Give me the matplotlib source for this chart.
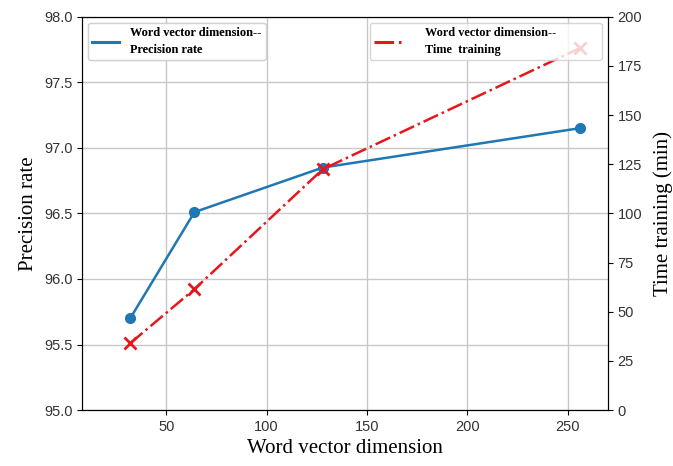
import matplotlib
matplotlib.use("Agg")
import matplotlib.pyplot as plt
from matplotlib.lines import Line2D

dims = [32, 64, 128, 256]
precision = [95.70, 96.51, 96.85, 97.15]
train_time = [34, 61.5, 122.5, 184]

serif = "Liberation Serif"
sans = "Liberation Sans"
blue = "#1f77b4"
red = "#e8161b"

fig = plt.figure(figsize=(6.73, 4.66), dpi=100)
ax = fig.add_axes([0.122, 0.120, 0.781, 0.844])
ax2 = ax.twinx()

ax.plot(dims, precision, color=blue, marker="o", markersize=7, linewidth=1.8)
ax2.plot(dims, train_time, color=red, marker="x", markersize=9,
         markeredgewidth=2, linestyle="-.", linewidth=1.8)

ax.set_xlim(8, 270)
ax.set_ylim(95.0, 98.0)
ax2.set_ylim(0, 200)
ax.set_xticks([50, 100, 150, 200, 250])
ax.set_yticks([95.0, 95.5, 96.0, 96.5, 97.0, 97.5, 98.0])
ax.set_yticklabels(["95.0", "95.5", "96.0", "96.5", "97.0", "97.5", "98.0"])
ax2.set_yticks([0, 25, 50, 75, 100, 125, 150, 175, 200])
ax.grid(True, color="#c8c8c8", linewidth=1.0)
ax.set_axisbelow(True)

for a in (ax, ax2):
    for lab in a.get_xticklabels() + a.get_yticklabels():
        lab.set_fontfamily(sans)
        lab.set_fontsize(10.5)
        lab.set_color("#333333")

ax.set_xlabel("Word vector dimension", fontfamily=serif, fontsize=15)
ax.set_ylabel("Precision rate", fontfamily=serif, fontsize=15)
ax2.set_ylabel("Time training (min)", fontfamily=serif, fontsize=15, labelpad=8)

# legend handles are plain lines, no markers
h1 = Line2D([], [], color=blue, linewidth=2.2)
h2 = Line2D([], [], color=red, linewidth=2.2, linestyle="-.")
leg_font = {"family": serif, "weight": "bold", "size": 8.8}
leg1 = ax.legend([h1], ["Word vector dimension--\nPrecision rate"], loc="upper left",
                 prop=leg_font, handlelength=2.2, handletextpad=0.9,
                 borderaxespad=0.5, borderpad=0.35)
ax.add_artist(leg1)
# trailing spaces leave the blank room the reference box has after the text
leg2 = ax2.legend([h2], ["Word vector dimension--" + " " * 13 + "\nTime  training"],
                  loc="upper right", prop=leg_font, handlelength=2.2,
                  handletextpad=2.0, borderaxespad=0.5, borderpad=0.35)
for lg in (leg1, leg2):
    lg.get_texts()[0].set_linespacing(1.5)

fig.savefig("out.png", dpi=100)
